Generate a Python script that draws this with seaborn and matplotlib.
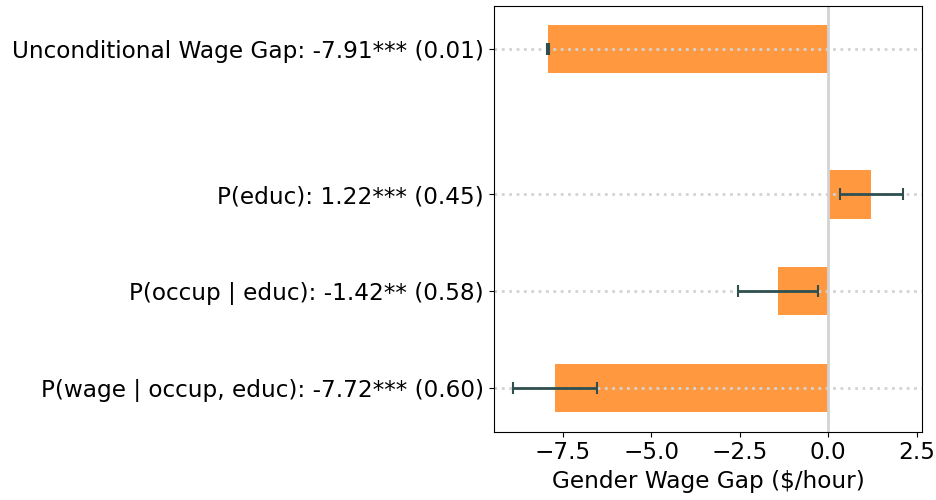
import numpy as np
import matplotlib
matplotlib.use('Agg')
import matplotlib.pyplot as plt
from matplotlib.ticker import MultipleLocator
import seaborn as sns

# decomposition estimates and standard errors
labels = [
    'P(wage | occup, educ): -7.72*** (0.60)',
    'P(occup | educ): -1.42** (0.58)',
    'P(educ): 1.22*** (0.45)',
    'Unconditional Wage Gap: -7.91*** (0.01)',
]
estimates = [-7.72, -1.42, 1.22, -7.91]
std_errors = [0.60, 0.58, 0.45, 0.01]
positions = [0, 1, 2, 3.5]

plt.rcParams['font.size'] = 16.7

fig, ax = plt.subplots(figsize=(9.37, 5), dpi=100)

sns.barplot(x=estimates, y=positions, orient='h', native_scale=True,
            color='tab:orange', alpha=0.8, saturation=1, width=0.5, ax=ax)

# 95% confidence intervals
ci = 1.96 * np.array(std_errors)
ax.errorbar(estimates, positions, xerr=ci, fmt='none', ecolor='darkslategray',
            elinewidth=2, capsize=4, capthick=1.5)

ax.axvline(0, color='lightgray', lw=2)
ax.yaxis.grid(True, linestyle=':', color='lightgray', lw=2)

ax.set_yticks(positions)
ax.set_yticklabels(labels)
ax.xaxis.set_major_locator(MultipleLocator(2.5))
ax.set_xlabel('Gender Wage Gap ($/hour)')
ax.set_ylabel('')

plt.subplots_adjust(left=0.527, right=0.984, top=0.989, bottom=0.137)
plt.savefig('out.png')
